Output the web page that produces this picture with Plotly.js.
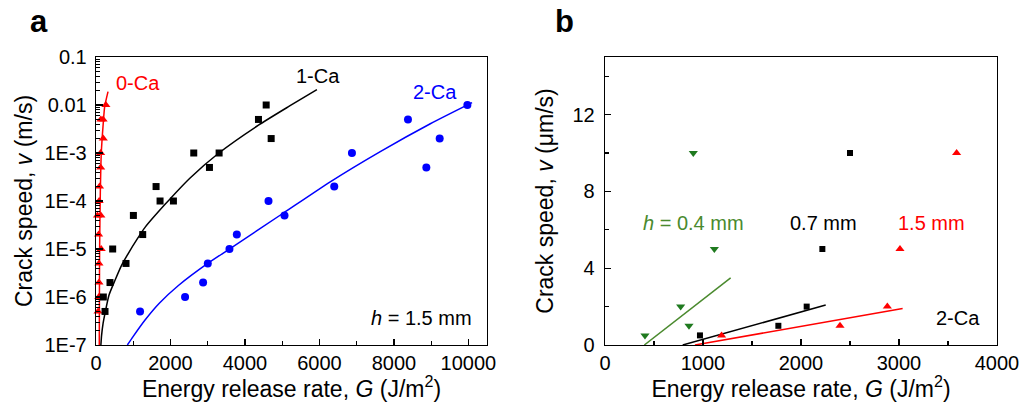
<!DOCTYPE html>
<html>
<head>
<meta charset="utf-8">
<script src="https://cdn.plot.ly/plotly-3.0.1.min.js"></script>
<style>html,body{margin:0;padding:0;background:#fff;}#chart{width:1025px;height:402px;}</style>
</head>
<body>
<div id="chart"></div>
<script>
// ---------- Panel a data (h = 1.5 mm) ----------
const ca0G = [55, 75, 80, 80, 140, 70, 40, 130, 85, 95, 125, 125, 195, 130, 190, 265];
const ca0V = [5e-7, 1e-6, 2e-6, 5e-6, 1e-5, 2e-5, 5e-5, 5e-5, 1e-4, 2e-4, 5e-4, 1e-3, 2e-3, 5e-3, 5e-3, 1e-2];

const ca1G = [242, 197, 376, 806, 448, 1254, 1004, 1613, 1720, 2079, 2625, 3047, 3306, 4363, 4570, 4704];
const ca1V = [5e-7, 1e-6, 2e-6, 5e-6, 1e-5, 2e-5, 5e-5, 2e-4, 1e-4, 1e-4, 1e-3, 5e-4, 1e-3, 5e-3, 1e-2, 2e-3];

const ca2G = [1183, 2392, 2876, 3002, 3584, 3782, 4632, 5062, 6398, 6873, 8378, 9229, 8871, 9973];
const ca2V = [5e-7, 1e-6, 2e-6, 5e-6, 1e-5, 2e-5, 1e-4, 5e-5, 2e-4, 1e-3, 5e-3, 2e-3, 5e-4, 1e-2];

// fit curves (G, log10 v)
const fit0G = [88, 92, 97, 116, 142, 188, 234, 323];
const fit0LogV = [-7, -6, -5, -3.83, -3.0, -2.45, -2.03, -1.72];
const fit1G = [131, 150, 190, 242, 350, 511, 680, 869, 1100, 1317, 1855, 2527, 3300, 4363, 5200, 5932];
const fit1LogV = [-7, -6.8, -6.55, -6.34, -5.96, -5.65, -5.35, -5.09, -4.8, -4.55, -4.07, -3.52, -3.0, -2.42, -2.02, -1.68];
const fit2G = [842, 1000, 1317, 1700, 2213, 3000, 3602, 5035, 6290, 7634, 8978, 10099];
const fit2LogV = [-7, -6.82, -6.48, -6.13, -5.76, -5.3, -4.99, -4.25, -3.6, -2.97, -2.39, -1.95];

const aYTickVals = [1e-7, 1e-6, 1e-5, 1e-4, 1e-3, 1e-2, 1e-1];
const aYTickText = ['1E-7', '1E-6', '1E-5', '1E-4', '1E-3', '0.01', '0.1'];
const aXTickVals = [0, 2000, 4000, 6000, 8000, 10000];
const aXTickText = ['0', '2000', '4000', '6000', '8000', '10000'];

// ---------- Panel b data (2-Ca) ----------
const h04G = [408, 772, 857, 1116, 901];
const h04V = [0.5, 2, 1, 5, 10];
const h07G = [969, 1769, 2058, 2218, 2500];
const h07V = [0.5, 1, 2, 5, 10];
const h15G = [1190, 2398, 2881, 3010, 3588];
const h15V = [0.5, 1, 2, 5, 10];

const fitH04G = [401, 1282]; const fitH04V = [0, 3.5];
const fitH07G = [793, 2252]; const fitH07V = [0, 2.08];
const fitH15G = [918, 3037]; const fitH15V = [0, 1.9];

const bXTickVals = [0, 1000, 2000, 3000, 4000];
const bXTickText = ['0', '1000', '2000', '3000', '4000'];
const bYTickVals = [0, 4, 8, 12];

// ---------- styling ----------
const W = 1025, H = 402;
const px = x => x / W;
const py = y => 1 - y / H;
const FONT = 'Liberation Sans, Arial, sans-serif';
const RED = '#ff0000', BLUE = '#0000ff', BLK = '#000000', GRN = '#1f7a1f', GRNL = '#4a8a2e';
const pow10 = a => a.map(v => Math.pow(10, v));

const logMinor = [];
for (let e = -7; e < -1; e++) for (let d = 2; d <= 9; d++) logMinor.push(d * Math.pow(10, e));

const traces = [
  {x: fit0G, y: pow10(fit0LogV), mode: 'lines', line: {color: RED, width: 1.5, shape: 'spline', smoothing: 0.6}, xaxis: 'x', yaxis: 'y', name: '0-Ca fit'},
  {x: fit1G, y: pow10(fit1LogV), mode: 'lines', line: {color: BLK, width: 1.5, shape: 'spline', smoothing: 0.6}, xaxis: 'x', yaxis: 'y', name: '1-Ca fit'},
  {x: fit2G, y: pow10(fit2LogV), mode: 'lines', line: {color: BLUE, width: 1.5, shape: 'spline', smoothing: 0.6}, xaxis: 'x', yaxis: 'y', name: '2-Ca fit'},
  {x: ca0G, y: ca0V, mode: 'markers', marker: {symbol: 'triangle-up', size: 8, color: RED}, xaxis: 'x', yaxis: 'y', name: '0-Ca', cliponaxis: false},
  {x: ca1G, y: ca1V, mode: 'markers', marker: {symbol: 'square', size: 7, color: BLK}, xaxis: 'x', yaxis: 'y', name: '1-Ca'},
  {x: ca2G, y: ca2V, mode: 'markers', marker: {symbol: 'circle', size: 8, color: BLUE}, xaxis: 'x', yaxis: 'y', name: '2-Ca'},

  {x: fitH04G, y: fitH04V, mode: 'lines', line: {color: GRNL, width: 1.5}, xaxis: 'x2', yaxis: 'y2', name: '0.4 fit'},
  {x: fitH07G, y: fitH07V, mode: 'lines', line: {color: BLK, width: 1.5}, xaxis: 'x2', yaxis: 'y2', name: '0.7 fit'},
  {x: fitH15G, y: fitH15V, mode: 'lines', line: {color: RED, width: 1.5}, xaxis: 'x2', yaxis: 'y2', name: '1.5 fit'},
  {x: h04G, y: h04V, mode: 'markers', marker: {symbol: 'triangle-down', size: 8, color: GRN}, xaxis: 'x2', yaxis: 'y2', name: 'h=0.4'},
  {x: h07G, y: h07V, mode: 'markers', marker: {symbol: 'square', size: 6, color: BLK}, xaxis: 'x2', yaxis: 'y2', name: 'h=0.7'},
  {x: h15G, y: h15V, mode: 'markers', marker: {symbol: 'triangle-up', size: 8, color: RED}, xaxis: 'x2', yaxis: 'y2', name: 'h=1.5'}
];

const axisCommon = {
  showline: true, mirror: true, linecolor: BLK, linewidth: 1.3,
  showgrid: false, zeroline: false, ticks: 'inside', tickcolor: BLK, tickwidth: 1.2,
  tickfont: {family: FONT, size: 20, color: BLK}, automargin: false
};
const titleFont = {family: FONT, size: 23, color: BLK};
const yDom = [py(345), py(57)];

const layout = {
  width: W, height: H,
  margin: {l: 0, r: 0, t: 0, b: 0},
  paper_bgcolor: '#fff', plot_bgcolor: '#fff',
  showlegend: false,
  font: {family: FONT, color: BLK},
  xaxis: Object.assign({}, axisCommon, {
    domain: [px(96), px(487)], anchor: 'y', range: [0, 10500],
    tickmode: 'array', tickvals: aXTickVals, ticktext: aXTickText, ticklen: 6, ticklabelstandoff: 0,
    minor: {tickmode: 'array', tickvals: [1000, 3000, 5000, 7000, 9000], ticks: 'inside', ticklen: 4, tickcolor: BLK},
    title: {text: 'Energy release rate, <i>G</i> (J/m<sup>2</sup>)', font: titleFont, standoff: 6}
  }),
  yaxis: Object.assign({}, axisCommon, {
    domain: yDom, anchor: 'x', type: 'log', range: [-7, -1],
    tickmode: 'array', tickvals: aYTickVals, ticktext: aYTickText, ticklen: 7, ticklabelstandoff: 4,
    minor: {tickmode: 'array', tickvals: logMinor, ticks: 'inside', ticklen: 4, tickcolor: BLK},
    title: {text: 'Crack speed, <i>v</i> (m/s)', font: titleFont, standoff: 5}
  }),
  xaxis2: Object.assign({}, axisCommon, {
    domain: [px(605), px(997)], anchor: 'y2', range: [0, 4000],
    tickmode: 'array', tickvals: bXTickVals, ticktext: bXTickText, ticklen: 6, ticklabelstandoff: 0,
    minor: {tickmode: 'array', tickvals: [500, 1500, 2500, 3500], ticks: 'inside', ticklen: 4, tickcolor: BLK},
    title: {text: 'Energy release rate, <i>G</i> (J/m<sup>2</sup>)', font: titleFont, standoff: 6}
  }),
  yaxis2: Object.assign({}, axisCommon, {
    domain: yDom, anchor: 'x2', range: [0, 15],
    tickmode: 'array', tickvals: bYTickVals, ticklen: 6, ticklabelstandoff: 5,
    minor: {tickmode: 'array', tickvals: [2, 6, 10, 14], ticks: 'inside', ticklen: 4, tickcolor: BLK},
    title: {text: 'Crack speed, <i>v</i> (μm/s)', font: titleFont, standoff: 12}
  }),
  annotations: [
    {text: '<b>a</b>', x: px(39), y: py(22), font: {family: FONT, size: 31, color: BLK}},
    {text: '<b>b</b>', x: px(564), y: py(22), font: {family: FONT, size: 31, color: BLK}},
    {text: '0-Ca', x: px(138), y: py(83), font: {family: FONT, size: 20, color: RED}},
    {text: '1-Ca', x: px(318), y: py(76), font: {family: FONT, size: 20, color: BLK}},
    {text: '2-Ca', x: px(435), y: py(92), font: {family: FONT, size: 20, color: BLUE}},
    {text: '<i>h</i> = 1.5 mm', x: px(421), y: py(318), font: {family: FONT, size: 20, color: BLK}},
    {text: '<i>h</i> = 0.4 mm', x: px(693), y: py(223), font: {family: FONT, size: 20, color: GRNL}},
    {text: '0.7 mm', x: px(823), y: py(223), font: {family: FONT, size: 20, color: BLK}},
    {text: '1.5 mm', x: px(931), y: py(223), font: {family: FONT, size: 20, color: RED}},
    {text: '2-Ca', x: px(958), y: py(318), font: {family: FONT, size: 20, color: BLK}}
  ].map(a => Object.assign({xref: 'paper', yref: 'paper', showarrow: false, xanchor: 'center', yanchor: 'middle'}, a))
};

Plotly.newPlot('chart', traces, layout, {staticPlot: true, displayModeBar: false});
</script>
</body>
</html>
